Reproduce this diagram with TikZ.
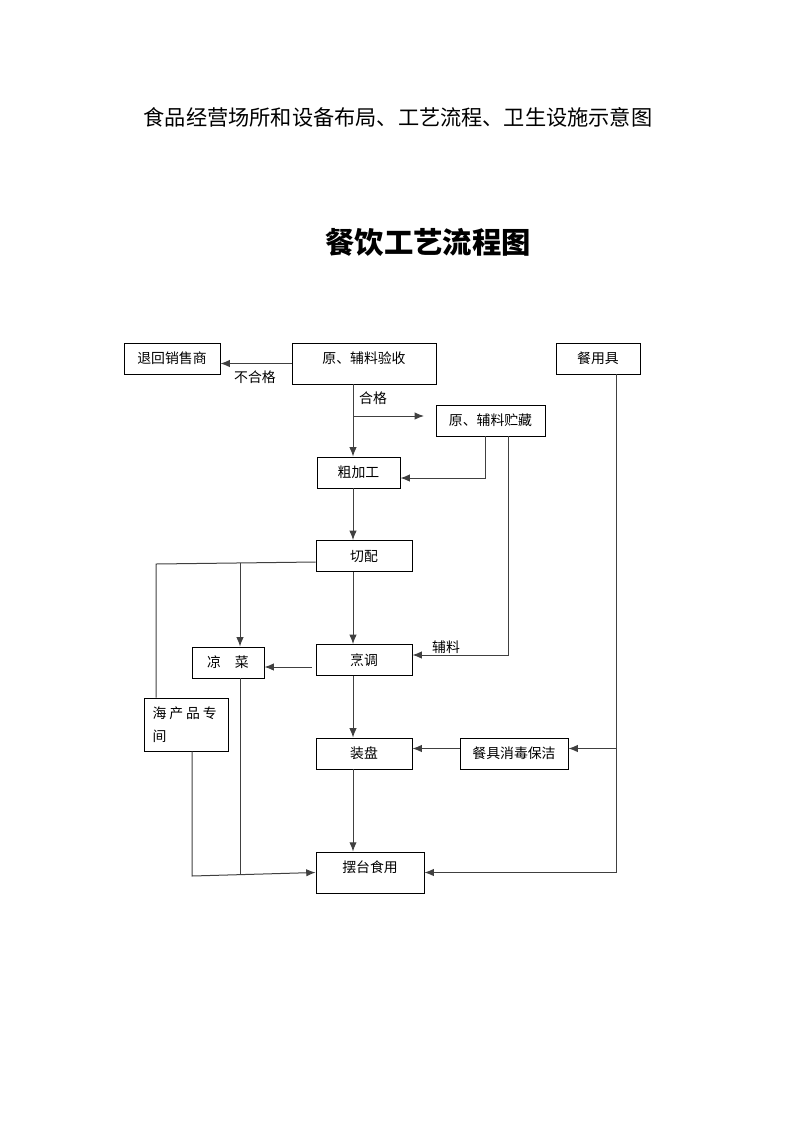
\documentclass[tikz,border=0pt]{standalone}
\usepackage{fontspec}
\setmainfont{Noto Sans CJK SC}
\usetikzlibrary{arrows.meta,calc}
\tikzset{
  kasten/.style={draw=black, line width=0.65pt, inner sep=0pt, minimum height=31*0.75pt,
    font=\fontsize{10.4}{12}\selectfont},
  hochkasten/.style={kasten, text height=15.2pt, text depth=15.5pt},
  fluss/.style={draw=black!75, line width=0.75pt},
  etikett/.style={font=\fontsize{10.4}{12}\selectfont, inner sep=0pt}
}
\begin{document}
\begin{tikzpicture}[x=0.75pt, y=-0.75pt, >={Latex[length=7pt,width=5.5pt]}]
\useasboundingbox (0,0) rectangle (793,1122);
% Ueberschriften
\node[inner sep=0pt, font=\fontsize{15.9}{18}\selectfont] (kopf) at (398,117) {食品经营场所和设备布局、工艺流程、卫生设施示意图};
\node[inner sep=0pt, font=\fontsize{22}{26}\bfseries] (titel) at (428,242) {餐饮工艺流程图};
% Hilfspunkte
\coordinate (spine)   at (353,0);
\coordinate (hege)    at (353,416);
\coordinate (hegeEnd) at (424,416);
\coordinate (hpTop)   at (156,564);
\coordinate (lcTop)   at (240,563);
\coordinate (lcBot)   at (240,875);
\coordinate (hpBot)   at (192,876);
\coordinate (cyLine)  at (616,0);
% Kaesten
\node[kasten, minimum width=96*0.75pt]  (th) at (172,358.5) {退回销售商};
\node[hochkasten, minimum width=144*0.75pt] (ys) at (364,363.5) {原、辅料验收};
\node[kasten, minimum width=84*0.75pt]  (cy) at (598,358.5) {餐用具};
\node[kasten, minimum width=109*0.75pt] (zc) at (490.5,420.5) {原、辅料贮藏};
\node[kasten, minimum width=83*0.75pt]  (cu) at (358.5,472.5) {粗加工};
\node[kasten, minimum width=96*0.75pt]  (qp) at (364,556) {切配};
\node[kasten, minimum width=72*0.75pt]  (lc) at (228,662.5) {凉　菜};
\node[kasten, minimum width=84*0.75pt, minimum height=53*0.75pt, align=left, text width=67*0.75pt,
  font=\fontsize{10.4}{17}\selectfont]
  (hp) at (186,724.5) {\spaceskip=2.2pt 海 产 品 专\\间};
\node[kasten, minimum width=96*0.75pt]  (pt) at (364,660) {烹调};
\node[kasten, minimum width=96*0.75pt]  (zp) at (364,753.5) {装盘};
\node[kasten, minimum width=108*0.75pt] (xd) at (514,753.5) {餐具消毒保洁};
\node[hochkasten, minimum width=108*0.75pt] (bt) at (370,872.5) {摆台食用};
% Beschriftungen
\node[etikett] (bhg) at (255,377) {不合格};
\node[etikett] (hg)  at (373,398) {合格};
\node[etikett] (fl)  at (446,647) {辅料};
% Verbindungen
\draw[fluss, ->] (ys.west) -- (ys.west -| th.east);
\draw[fluss, ->] (ys.south -| spine) -- (cu.north -| spine);
\draw[fluss, ->] (hege) -- (hegeEnd);
\draw[fluss, ->] ($(zc.south)+(-5,0)$) |- ($(cu.east)+(0,5.5)$);
\draw[fluss, ->] ($(zc.south)+(18,0)$) |- ($(pt.east)+(0,-5)$);
\draw[fluss, ->] (cu.south -| spine) -- (qp.north -| spine);
\draw[fluss] ($(qp.west)+(0,6)$) -- (hpTop) -- (hp.north -| hpTop);
\draw[fluss, ->] (lcTop) -- (lc.north -| lcTop);
\draw[fluss, ->] (qp.south -| spine) -- (pt.north -| spine);
\coordinate (ptL) at ($(pt.west)+(-4,7)$);
\draw[fluss, ->] (ptL) -- (ptL -| lc.east);
\draw[fluss, ->] (pt.south -| spine) -- (zp.north -| spine);
\draw[fluss, ->] (zp.south -| spine) -- (bt.north -| spine);
\draw[fluss] (lc.south -| lcTop) -- (lcBot);
\draw[fluss, ->] (hp.south -| hpBot) -- (hpBot) -- (bt.west);
\draw[fluss, ->] (cy.south -| cyLine) |- (bt.east);
\coordinate (xdR) at ($(xd.east)+(0,-5)$);
\coordinate (xdL) at ($(xd.west)+(0,-5)$);
\draw[fluss, ->] (xdR -| cyLine) -- (xdR);
\draw[fluss, ->] (xdL) -- (xdL -| zp.east);
\end{tikzpicture}
\end{document}
